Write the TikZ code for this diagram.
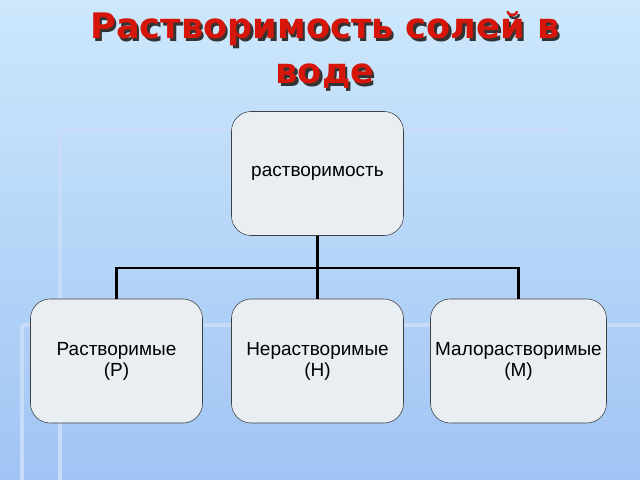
\documentclass[tikz,border=0pt]{standalone}
\usepackage{fontspec}
\setmainfont{Liberation Sans}
\newfontfamily\titlefont{DejaVu Sans}
\usetikzlibrary{positioning}
\definecolor{bgtop}{RGB}{205,232,252}
\definecolor{bgbot}{RGB}{160,196,244}
\definecolor{boxfill}{RGB}{232,238,242}
\definecolor{titlered}{RGB}{214,22,10}
\tikzset{
  box/.style={rectangle, draw=black!75, fill=boxfill, rounded corners=14pt,
    minimum width=4.3cm, minimum height=3.1cm, align=center,
    font=\fontsize{13.5}{15}\selectfont},
  link/.style={draw, line width=1.8pt},
  stripe/.style={draw=white!40!bgbot, line width=3pt},
  heading/.style={align=center, font=\titlefont\bfseries\fontsize{25}{32}\selectfont}
}
\begin{document}
\begin{tikzpicture}[x=0.025cm, y=-0.025cm]
% background
\shade[top color=bgtop, bottom color=bgbot] (0,0) rectangle (640,480);
\useasboundingbox (0,0) rectangle (640,480);
\draw[stripe] (60,130) -- (570,130);
\draw[stripe] (60,130) -- (60,480);
\draw[stripe] (22,325) -- (640,325);
\draw[stripe] (22,325) -- (22,480);
% title
\node[heading, text=black!80] at (327.5,52.5) {Растворимость солей в\\воде};
\node[heading, text=titlered] (title) at (325,50) {Растворимость солей в\\воде};
% Place nodes
\node[box] (solub) at (317.5,173.5) {растворимость};
\node[box] (sol) at (116.5,361) {Растворимые\\(Р)};
\node[box] (insol) at (317.5,361) {Нерастворимые\\(Н)};
\node[box] (low) at (518.5,361) {Малорастворимые\\(М)};
\coordinate (fork) at (317.5,268);
% Draw edges
\draw[link] (solub) -- (fork);
\draw[link] (fork) -| (sol);
\draw[link] (fork) -- (insol);
\draw[link] (fork) -| (low);
\end{tikzpicture}
\end{document}
